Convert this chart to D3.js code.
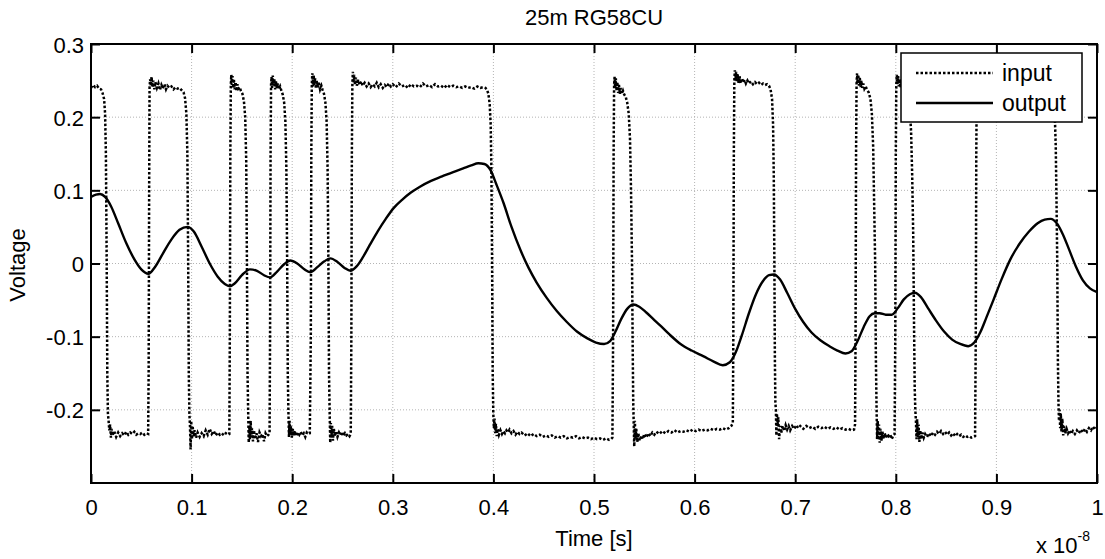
<!DOCTYPE html>
<html>
<head>
<meta charset="utf-8">
<script src="https://cdn.jsdelivr.net/npm/d3@7"></script>
<style>
  html, body { margin: 0; padding: 0; background: #fff; overflow: hidden; }
  svg { display: block; font-family: "Liberation Sans", Arial, sans-serif; }
</style>
</head>
<body>
<div id="chart"></div>
<script>
// ---- data (time in units of 1e-8 s, voltage in V) ----
const chartTitle = "25m RG58CU";
const seriesNames = ["input", "output"];
const xTicks = [0, 0.1, 0.2, 0.3, 0.4, 0.5, 0.6, 0.7, 0.8, 0.9, 1];
const xTickLabels = ["0", "0.1", "0.2", "0.3", "0.4", "0.5", "0.6", "0.7", "0.8", "0.9", "1"];
const yTicks = [-0.2, -0.1, 0, 0.1, 0.2, 0.3];
const yTickLabels = ["-0.2", "-0.1", "0", "0.1", "0.2", "0.3"];

const inputPoints = [
  [0,0.240],[0.002,0.244],[0.004,0.241],[0.006,0.243],[0.008,0.239],[0.010,0.238],[0.0115,0.233],[0.013,0.225],[0.014,0.205],[0.0148,0.15],[0.0156,0],[0.0162,-0.15],[0.0168,-0.205],
  [0.0175,-0.215],[0.0182,-0.228],[0.019,-0.22],[0.0198,-0.238],[0.0206,-0.226],[0.0215,-0.235],[0.023,-0.229],[0.025,-0.237],[0.027,-0.231],[0.029,-0.236],[0.031,-0.232],[0.033,-0.235],[0.035,-0.230],[0.037,-0.234],[0.039,-0.231],[0.041,-0.233],[0.043,-0.230],[0.045,-0.234],[0.047,-0.232],[0.049,-0.233],[0.051,-0.231],[0.053,-0.234],[0.055,-0.232],[0.0568,-0.233],
  [0.0573,-0.15],[0.0578,0.1],[0.0582,0.24],
  [0.0588,0.252],[0.0595,0.243],[0.0602,0.255],[0.061,0.241],[0.062,0.25],[0.063,0.238],[0.064,0.248],[0.0655,0.24],[0.067,0.246],[0.0685,0.237],[0.07,0.244],[0.0715,0.239],[0.073,0.245],[0.0745,0.238],[0.076,0.243],[0.078,0.24],[0.08,0.242],[0.082,0.238],[0.084,0.241],[0.086,0.239],[0.088,0.24],[0.09,0.237],[0.092,0.234],[0.0935,0.226],[0.0948,0.205],[0.0958,0.15],[0.0966,0],[0.0972,-0.15],[0.0978,-0.205],
  [0.0984,-0.222],[0.099,-0.254],[0.0996,-0.215],[0.1003,-0.24],[0.101,-0.222],[0.102,-0.236],[0.103,-0.228],[0.1045,-0.238],[0.106,-0.231],[0.108,-0.237],[0.11,-0.232],[0.112,-0.236],[0.114,-0.228],[0.116,-0.234],[0.118,-0.226],[0.12,-0.233],[0.122,-0.229],[0.124,-0.235],[0.126,-0.231],[0.128,-0.234],[0.13,-0.232],[0.132,-0.235],[0.134,-0.232],[0.136,-0.234],[0.1375,-0.233],
  [0.138,-0.1],[0.1385,0.15],[0.139,0.245],
  [0.1395,0.258],[0.14,0.244],[0.1407,0.256],[0.1414,0.24],[0.142,0.252],[0.1428,0.238],[0.1436,0.248],[0.1445,0.236],[0.1455,0.245],[0.1465,0.239],[0.1478,0.241],[0.149,0.236],[0.1505,0.232],[0.152,0.222],[0.1533,0.2],[0.1543,0.14],[0.155,0],[0.1556,-0.15],[0.1562,-0.2],
  [0.1568,-0.245],[0.1574,-0.222],[0.158,-0.24],[0.1587,-0.215],[0.1594,-0.238],[0.16,-0.225],[0.161,-0.243],[0.162,-0.228],[0.163,-0.24],[0.1645,-0.232],[0.166,-0.244],[0.1675,-0.231],[0.169,-0.236],[0.1705,-0.233],[0.172,-0.243],[0.1735,-0.232],[0.175,-0.236],[0.1765,-0.234],[0.1775,-0.232],
  [0.178,-0.1],[0.1785,0.15],[0.179,0.245],
  [0.1795,0.255],[0.18,0.24],[0.1807,0.257],[0.1814,0.243],[0.1822,0.252],[0.183,0.238],[0.1838,0.249],[0.1847,0.24],[0.1857,0.246],[0.1868,0.238],[0.188,0.242],[0.1893,0.236],[0.1906,0.231],[0.192,0.22],[0.1932,0.195],[0.1942,0.13],[0.195,0],[0.1956,-0.15],[0.1962,-0.2],
  [0.1968,-0.237],[0.1974,-0.215],[0.198,-0.232],[0.1988,-0.222],[0.1996,-0.238],[0.2005,-0.226],[0.2015,-0.235],[0.2028,-0.229],[0.204,-0.236],[0.2055,-0.231],[0.207,-0.234],[0.2085,-0.23],[0.21,-0.235],[0.2115,-0.232],[0.213,-0.237],[0.2145,-0.231],[0.216,-0.233],[0.2175,-0.232],
  [0.2185,-0.1],[0.219,0.15],[0.2195,0.245],
  [0.22,0.26],[0.2206,0.242],[0.2213,0.258],[0.222,0.244],[0.2228,0.253],[0.2236,0.239],[0.2245,0.25],[0.2255,0.241],[0.2265,0.247],[0.2277,0.238],[0.229,0.243],[0.2303,0.237],[0.2316,0.232],[0.233,0.22],[0.2342,0.195],[0.2352,0.13],[0.236,0],[0.2366,-0.15],[0.2372,-0.2],
  [0.2378,-0.245],[0.2384,-0.218],[0.239,-0.238],[0.2397,-0.222],[0.2405,-0.242],[0.2414,-0.226],[0.2424,-0.236],[0.2436,-0.229],[0.245,-0.237],[0.2465,-0.231],[0.248,-0.235],[0.2495,-0.23],[0.251,-0.236],[0.2525,-0.232],[0.254,-0.235],[0.2555,-0.233],[0.257,-0.236],[0.2582,-0.233],
  [0.2588,-0.1],[0.2593,0.15],[0.2598,0.245],
  [0.2603,0.262],[0.2609,0.247],[0.2616,0.258],[0.2624,0.244],[0.2633,0.254],[0.2643,0.243],[0.2655,0.251],[0.267,0.244],[0.2685,0.249],[0.27,0.243],[0.272,0.247],[0.274,0.242],[0.276,0.246],[0.278,0.241],[0.28,0.245],[0.282,0.242],[0.284,0.247],[0.286,0.241],[0.288,0.245],[0.29,0.24],[0.292,0.244],[0.294,0.241],[0.296,0.246],[0.298,0.242],[0.3,0.245],[0.303,0.241],[0.306,0.246],[0.309,0.242],[0.312,0.244],[0.315,0.24],[0.318,0.245],[0.321,0.242],[0.324,0.243],[0.327,0.241],[0.33,0.246],[0.333,0.242],[0.336,0.244],[0.339,0.241],[0.342,0.245],[0.345,0.242],[0.348,0.243],[0.351,0.24],[0.354,0.244],[0.357,0.241],[0.36,0.243],[0.363,0.241],[0.366,0.242],[0.369,0.24],[0.372,0.242],[0.375,0.24],[0.378,0.241],[0.381,0.239],[0.384,0.242],[0.387,0.24],[0.39,0.241],[0.392,0.24],[0.3935,0.238],[0.395,0.232],[0.3963,0.218],[0.3973,0.19],[0.398,0.13],[0.3987,0],[0.3993,-0.15],[0.3999,-0.205],
  [0.4005,-0.225],[0.4011,-0.212],[0.4018,-0.232],[0.4025,-0.219],[0.4033,-0.236],[0.4043,-0.226],[0.4055,-0.234],[0.407,-0.228],[0.4085,-0.233],[0.41,-0.229],[0.4115,-0.232],[0.413,-0.228],[0.4145,-0.231],[0.416,-0.227],[0.418,-0.232],[0.42,-0.229],[0.422,-0.234],[0.424,-0.23],[0.426,-0.233],[0.428,-0.231],[0.431,-0.235],[0.434,-0.232],[0.437,-0.236],[0.44,-0.233],[0.443,-0.236],[0.446,-0.234],[0.449,-0.237],[0.452,-0.235],[0.455,-0.237],[0.458,-0.235],[0.461,-0.238],[0.464,-0.236],[0.467,-0.238],[0.47,-0.236],[0.473,-0.239],[0.476,-0.237],[0.479,-0.238],[0.482,-0.236],[0.485,-0.239],[0.488,-0.237],[0.491,-0.239],[0.494,-0.238],[0.497,-0.24],[0.5,-0.238],[0.503,-0.24],[0.506,-0.239],[0.509,-0.241],[0.512,-0.239],[0.515,-0.241],[0.517,-0.24],[0.5183,-0.238],
  [0.519,-0.1],[0.5195,0.15],[0.52,0.245],
  [0.5205,0.255],[0.521,0.24],[0.5217,0.253],[0.5224,0.236],[0.5232,0.248],[0.524,0.233],[0.5248,0.244],[0.5257,0.232],[0.5267,0.24],[0.5277,0.232],[0.5288,0.236],[0.53,0.231],[0.5315,0.228],[0.533,0.22],[0.5345,0.205],[0.5358,0.17],[0.5368,0.1],[0.5378,0],[0.5385,-0.12],[0.539,-0.19],
  [0.5395,-0.22],[0.54,-0.25],[0.5406,-0.215],[0.5412,-0.238],[0.542,-0.226],[0.543,-0.244],[0.544,-0.232],[0.5455,-0.242],[0.547,-0.235],[0.5485,-0.24],[0.55,-0.233],[0.552,-0.238],[0.554,-0.232],[0.556,-0.236],[0.558,-0.231],[0.56,-0.234],[0.562,-0.23],[0.565,-0.233],[0.568,-0.229],[0.571,-0.232],[0.574,-0.229],[0.577,-0.231],[0.58,-0.228],[0.583,-0.231],[0.586,-0.229],[0.589,-0.23],[0.592,-0.228],[0.595,-0.23],[0.598,-0.227],[0.601,-0.229],[0.604,-0.227],[0.607,-0.229],[0.61,-0.227],[0.613,-0.228],[0.616,-0.226],[0.619,-0.228],[0.622,-0.226],[0.625,-0.227],[0.628,-0.225],[0.631,-0.227],[0.634,-0.225],[0.6365,-0.222],[0.638,-0.218],
  [0.6385,-0.1],[0.639,0.15],[0.6395,0.25],
  [0.64,0.264],[0.6406,0.25],[0.6413,0.262],[0.642,0.248],[0.6428,0.259],[0.6437,0.247],[0.6447,0.256],[0.6458,0.246],[0.647,0.253],[0.6483,0.247],[0.6497,0.251],[0.651,0.246],[0.6525,0.25],[0.654,0.246],[0.656,0.249],[0.658,0.245],[0.66,0.248],[0.662,0.245],[0.664,0.247],[0.666,0.244],[0.668,0.246],[0.67,0.244],[0.672,0.245],[0.674,0.243],[0.6755,0.238],[0.677,0.225],[0.678,0.19],[0.6787,0.12],[0.6793,0],[0.6798,-0.13],[0.6803,-0.19],
  [0.6808,-0.2],[0.6813,-0.235],[0.6818,-0.205],[0.6825,-0.222],[0.6832,-0.21],[0.684,-0.24],[0.685,-0.222],[0.686,-0.232],[0.6875,-0.222],[0.689,-0.229],[0.6905,-0.221],[0.692,-0.227],[0.6935,-0.222],[0.695,-0.228],[0.697,-0.222],[0.699,-0.226],[0.701,-0.221],[0.703,-0.225],[0.705,-0.222],[0.708,-0.226],[0.711,-0.222],[0.714,-0.225],[0.717,-0.223],[0.72,-0.226],[0.723,-0.223],[0.726,-0.225],[0.729,-0.223],[0.732,-0.226],[0.735,-0.224],[0.738,-0.226],[0.741,-0.224],[0.744,-0.227],[0.747,-0.225],[0.75,-0.227],[0.753,-0.226],[0.756,-0.228],[0.7585,-0.227],[0.7595,-0.22],
  [0.76,-0.1],[0.7605,0.15],[0.761,0.245],
  [0.7615,0.26],[0.762,0.246],[0.7627,0.258],[0.7634,0.243],[0.7642,0.254],[0.765,0.241],[0.7658,0.25],[0.7667,0.24],[0.7677,0.246],[0.7688,0.239],[0.77,0.242],[0.7713,0.238],[0.773,0.234],[0.7748,0.225],[0.7762,0.205],[0.7775,0.16],[0.7785,0.08],[0.7795,0],[0.7802,-0.13],[0.7808,-0.19],
  [0.7814,-0.24],[0.782,-0.215],[0.7826,-0.238],[0.7833,-0.22],[0.784,-0.245],[0.7848,-0.226],[0.7857,-0.242],[0.7867,-0.23],[0.7878,-0.24],[0.789,-0.232],[0.7903,-0.238],[0.7916,-0.233],[0.793,-0.236],[0.7945,-0.234],[0.796,-0.24],[0.7975,-0.235],[0.7988,-0.233],
  [0.7995,-0.1],[0.8,0.15],[0.8005,0.245],
  [0.801,0.258],[0.8016,0.245],[0.8023,0.256],[0.803,0.242],[0.8038,0.252],[0.8046,0.24],[0.8055,0.248],[0.8065,0.24],[0.8076,0.245],[0.8088,0.239],[0.81,0.241],[0.8113,0.236],[0.8127,0.228],[0.814,0.21],[0.8152,0.18],[0.8163,0.12],[0.8173,0.04],[0.8181,-0.08],[0.8188,-0.17],[0.8194,-0.2],
  [0.82,-0.215],[0.8206,-0.24],[0.8212,-0.213],[0.8219,-0.237],[0.8226,-0.22],[0.8234,-0.244],[0.8243,-0.228],[0.8253,-0.24],[0.8265,-0.231],[0.8278,-0.238],[0.8292,-0.233],[0.831,-0.237],[0.833,-0.232],[0.835,-0.236],[0.837,-0.231],[0.839,-0.234],[0.841,-0.23],[0.843,-0.233],[0.845,-0.229],[0.847,-0.233],[0.849,-0.23],[0.851,-0.234],[0.853,-0.231],[0.855,-0.235],[0.857,-0.232],[0.859,-0.236],[0.861,-0.233],[0.863,-0.236],[0.865,-0.234],[0.867,-0.237],[0.869,-0.235],[0.871,-0.237],[0.873,-0.236],[0.875,-0.238],[0.877,-0.237],[0.8788,-0.236],
  [0.8795,-0.1],[0.88,0.15],[0.8805,0.245],
  [0.881,0.258],[0.8816,0.246],[0.8823,0.255],[0.883,0.243],[0.884,0.25],[0.885,0.244],[0.8865,0.248],[0.888,0.243],[0.89,0.246],[0.892,0.242],[0.895,0.245],[0.898,0.242],[0.901,0.244],[0.904,0.241],[0.907,0.244],[0.91,0.241],[0.913,0.243],[0.916,0.24],[0.919,0.243],[0.922,0.24],[0.925,0.242],[0.928,0.24],[0.931,0.242],[0.934,0.239],[0.937,0.241],[0.94,0.239],[0.943,0.241],[0.946,0.239],[0.949,0.24],[0.952,0.238],[0.9545,0.235],[0.9565,0.225],[0.958,0.205],[0.959,0.16],[0.9598,0.08],[0.9605,0],[0.9611,-0.13],[0.9617,-0.19],
  [0.9622,-0.215],[0.9628,-0.2],[0.9634,-0.225],[0.964,-0.205],[0.9647,-0.23],[0.9655,-0.212],[0.9664,-0.235],[0.9674,-0.222],[0.9685,-0.232],[0.9698,-0.226],[0.9712,-0.232],[0.9727,-0.228],[0.9742,-0.233],[0.976,-0.229],[0.978,-0.233],[0.98,-0.228],[0.982,-0.232],[0.984,-0.227],[0.986,-0.231],[0.988,-0.226],[0.99,-0.23],[0.992,-0.225],[0.994,-0.228],[0.996,-0.223],[0.998,-0.227],[1.0,-0.224]
];

const outputPoints = [
  [0,0.091],[0.005,0.094],[0.009,0.095],[0.014,0.091],[0.02,0.078],[0.027,0.055],[0.035,0.028],[0.043,0.006],[0.05,-0.008],[0.057,-0.014],[0.064,-0.004],[0.072,0.015],[0.08,0.033],[0.088,0.046],[0.096,0.050],[0.102,0.044],[0.11,0.023],[0.118,0.0],[0.126,-0.018],[0.133,-0.028],[0.138,-0.031],[0.143,-0.027],[0.15,-0.016],[0.158,-0.008],[0.165,-0.010],[0.172,-0.016],[0.178,-0.019],[0.185,-0.011],[0.192,-0.001],[0.198,0.004],[0.205,0.0],[0.212,-0.008],[0.218,-0.012],[0.225,-0.005],[0.232,0.003],[0.238,0.007],[0.245,0.002],[0.252,-0.006],[0.258,-0.010],[0.264,-0.004],[0.270,0.008],[0.277,0.025],[0.285,0.044],[0.293,0.061],[0.301,0.076],[0.31,0.088],[0.318,0.097],[0.327,0.105],[0.338,0.113],[0.349,0.119],[0.36,0.125],[0.37,0.130],[0.378,0.134],[0.385,0.137],[0.391,0.136],[0.397,0.128],[0.403,0.108],[0.410,0.083],[0.418,0.050],[0.427,0.018],[0.435,-0.006],[0.443,-0.026],[0.453,-0.047],[0.463,-0.065],[0.473,-0.080],[0.483,-0.093],[0.493,-0.102],[0.502,-0.108],[0.510,-0.110],[0.516,-0.106],[0.521,-0.094],[0.527,-0.076],[0.533,-0.062],[0.539,-0.056],[0.545,-0.059],[0.552,-0.067],[0.559,-0.076],[0.566,-0.085],[0.575,-0.097],[0.586,-0.110],[0.597,-0.119],[0.609,-0.127],[0.619,-0.134],[0.628,-0.139],[0.635,-0.135],[0.641,-0.121],[0.647,-0.098],[0.654,-0.068],[0.661,-0.042],[0.668,-0.024],[0.674,-0.016],[0.679,-0.015],[0.685,-0.022],[0.692,-0.040],[0.700,-0.062],[0.708,-0.080],[0.716,-0.094],[0.725,-0.105],[0.734,-0.113],[0.742,-0.119],[0.750,-0.123],[0.756,-0.120],[0.762,-0.106],[0.768,-0.087],[0.774,-0.072],[0.779,-0.068],[0.784,-0.068],[0.790,-0.070],[0.796,-0.070],[0.802,-0.061],[0.808,-0.049],[0.814,-0.042],[0.819,-0.040],[0.825,-0.046],[0.832,-0.061],[0.840,-0.078],[0.848,-0.093],[0.856,-0.104],[0.864,-0.110],[0.872,-0.113],[0.878,-0.108],[0.884,-0.094],[0.890,-0.074],[0.897,-0.050],[0.905,-0.022],[0.914,0.006],[0.923,0.027],[0.932,0.043],[0.941,0.055],[0.948,0.060],[0.954,0.061],[0.960,0.055],[0.966,0.040],[0.972,0.020],[0.979,-0.004],[0.986,-0.023],[0.993,-0.034],[1.0,-0.039]
];

// ---- layout ----
const width = 1105;
const height = 559;
const margin = {top: 44, right: 8, bottom: 76, left: 91};
const innerWidth = width - margin.left - margin.right;
const innerHeight = height - margin.top - margin.bottom;
const fontSize = 22;

const svg = d3.select("#chart")
  .append("svg")
    .attr("width", width)
    .attr("height", height)
    .attr("viewBox", `0 0 ${width} ${height}`);

const inner = svg.append("g")
    .attr("transform", `translate(${margin.left}, ${margin.top})`);

// scales
const xScale = d3.scaleLinear().domain([0, 1]).range([0, innerWidth]);
const yScale = d3.scaleLinear().domain([-0.3, 0.3]).range([innerHeight, 0]);

// grid (light dotted)
inner.append("g")
  .selectAll("line")
  .data(xTicks.slice(1, -1))
  .join("line")
    .attr("x1", d => xScale(d)).attr("x2", d => xScale(d))
    .attr("y1", 0).attr("y2", innerHeight)
    .attr("stroke", "#b4b4b4")
    .attr("stroke-dasharray", "1,2");
inner.append("g")
  .selectAll("line")
  .data(yTicks.filter(d => d !== 0.3))
  .join("line")
    .attr("x1", 0).attr("x2", innerWidth)
    .attr("y1", d => yScale(d)).attr("y2", d => yScale(d))
    .attr("stroke", "#b4b4b4")
    .attr("stroke-dasharray", "1,2");

// clip
svg.append("defs").append("clipPath").attr("id", "plotClip")
  .append("rect").attr("width", innerWidth).attr("height", innerHeight);

const line = d3.line()
  .x(d => xScale(d[0]))
  .y(d => yScale(d[1]));

inner.append("path")
    .datum(inputPoints)
    .attr("clip-path", "url(#plotClip)")
    .attr("fill", "none")
    .attr("stroke", "#000")
    .attr("stroke-width", 2.5)
    .attr("stroke-dasharray", "2.5,2")
    .attr("d", line);

inner.append("path")
    .datum(outputPoints)
    .attr("clip-path", "url(#plotClip)")
    .attr("fill", "none")
    .attr("stroke", "#000")
    .attr("stroke-width", 2.4)
    .attr("d", line.curve(d3.curveMonotoneX));

// axes (ticks point inwards, box on all sides)
const fmtX = d => xTickLabels[xTicks.indexOf(d)];
const fmtY = d => yTickLabels[yTicks.indexOf(d)];

inner.append("g")
    .attr("transform", `translate(0, ${innerHeight})`)
    .call(d3.axisBottom(xScale).tickValues(xTicks).tickFormat(fmtX).tickSize(-9).tickPadding(16).tickSizeOuter(0))
    .attr("font-size", fontSize)
    .attr("font-family", null)
    .call(g => g.selectAll(".tick text").attr("dy", null).attr("y", 32));
inner.append("g")
    .call(d3.axisLeft(yScale).tickValues(yTicks).tickFormat(fmtY).tickSize(-9).tickPadding(7).tickSizeOuter(0))
    .attr("font-size", fontSize)
    .attr("font-family", null)
    .call(g => g.selectAll(".tick text").attr("dy", null).attr("y", 8));

// top and right: tick marks only
inner.append("g")
    .call(d3.axisTop(xScale).tickValues(xTicks).tickSize(-9).tickSizeOuter(0))
    .call(g => g.selectAll("text").remove());
inner.append("g")
    .attr("transform", `translate(${innerWidth}, 0)`)
    .call(d3.axisRight(yScale).tickValues(yTicks).tickSize(-9).tickSizeOuter(0))
    .call(g => g.selectAll("text").remove());

inner.selectAll(".domain").remove();
inner.selectAll(".tick line").attr("stroke", "#000").attr("stroke-width", 2);
inner.selectAll(".tick text").attr("fill", "#000");

inner.append("rect")
    .attr("width", innerWidth)
    .attr("height", innerHeight)
    .attr("fill", "none")
    .attr("stroke", "#000")
    .attr("stroke-width", 2);

// legend
const legend = svg.append("g").attr("transform", "translate(901, 53)");
legend.append("rect")
    .attr("width", 181).attr("height", 69)
    .attr("fill", "#fff").attr("stroke", "#000").attr("stroke-width", 1.5);
seriesNames.forEach((name, i) => {
  const y = 20 + i * 30;
  legend.append("line")
      .attr("x1", 15).attr("x2", 92)
      .attr("y1", y).attr("y2", y)
      .attr("stroke", "#000").attr("stroke-width", i === 0 ? 2.5 : 2.4)
      .attr("stroke-dasharray", i === 0 ? "2.5,2" : null);
  legend.append("text")
      .attr("x", 101).attr("y", y + 8)
      .attr("font-size", 23)
      .text(name);
});

// labels
svg.append("text")
    .attr("x", 594).attr("y", 25)
    .attr("text-anchor", "middle")
    .attr("font-size", fontSize)
    .text(chartTitle);

svg.append("text")
    .attr("x", 594).attr("y", 546)
    .attr("text-anchor", "middle")
    .attr("font-size", fontSize)
    .text("Time [s]");

svg.append("text")
    .attr("transform", "translate(25, 265) rotate(-90)")
    .attr("text-anchor", "middle")
    .attr("font-size", fontSize)
    .text("Voltage");

const expo = svg.append("text")
    .attr("x", 1036).attr("y", 553)
    .attr("font-size", fontSize);
expo.append("tspan").text("x 10");
expo.append("tspan").attr("dy", -12).attr("font-size", 14).text("-8");
</script>
</body>
</html>
